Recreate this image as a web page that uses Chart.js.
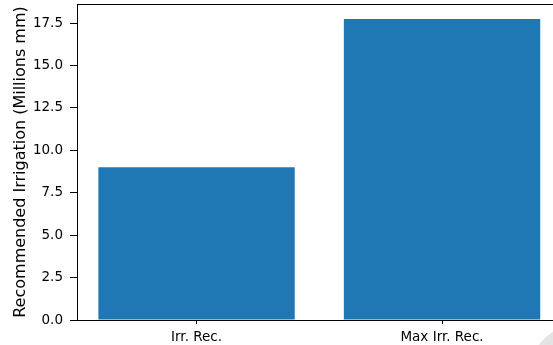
<!DOCTYPE html>
<html>
<head>
<meta charset="utf-8">
<script src="https://cdn.jsdelivr.net/npm/chart.js@4/dist/chart.umd.min.js"></script>
<style>
  html, body { margin: 0; padding: 0; background: #fff; overflow: hidden; }
  #wrap { position: relative; width: 553px; height: 345px; overflow: hidden; }
  #wrap canvas { position: absolute; left: 0; top: 0; }
  #corner { position: absolute; left: 531px; top: 326px; width: 88px; height: 88px;
            border-radius: 50%; background: #e4e4e4; }
</style>
</head>
<body>
<div id="wrap">
  <canvas id="c" width="580" height="345" style="width:580px;height:345px"></canvas>
  <div id="corner"></div>
</div>
<script>
// Irrigation recommendation totals (millions of mm)
const categories = ["Irr. Rec.", "Max Irr. Rec."];
const irrigation = [9.0, 17.73];
const yTicks = [0, 2.5, 5, 7.5, 10, 12.5, 15, 17.5];

const FONT = "'DejaVu Sans', sans-serif";

// top frame line of the plot box
const topSpine = {
  id: 'topSpine',
  afterDraw(chart) {
    const { ctx, chartArea } = chart;
    ctx.save();
    ctx.strokeStyle = '#000';
    ctx.lineWidth = 1;
    ctx.beginPath();
    ctx.moveTo(chartArea.left, chartArea.top + 0.5);
    ctx.lineTo(chartArea.right, chartArea.top + 0.5);
    ctx.stroke();
    ctx.restore();
  }
};

new Chart(document.getElementById('c'), {
  type: 'bar',
  data: {
    datasets: [{
      data: categories.map((c, i) => ({ x: i, y: irrigation[i] })),
      backgroundColor: '#1f77b4',
      borderWidth: 0,
      categoryPercentage: 1.0,
      barPercentage: 0.8
    }]
  },
  options: {
    responsive: false,
    animation: false,
    devicePixelRatio: 1,
    layout: { autoPadding: false, padding: { left: 0, top: 4, right: 0, bottom: 0 } },
    plugins: { legend: { display: false }, tooltip: { enabled: false } },
    scales: {
      x: {
        type: 'linear',
        offset: false,
        min: -0.487,
        max: 1.562,
        afterBuildTicks(s) { s.ticks = categories.map((c, i) => ({ value: i })); },
        afterFit(s) { s.height = 25; s.paddingLeft = 0; s.paddingRight = 0; },
        ticks: {
          callback: (v) => categories[v],
          font: { family: FONT, size: 13.5 },
          color: '#000',
          padding: 5,
          maxRotation: 0,
          autoSkip: false
        },
        grid: { offset: false, drawOnChartArea: false, tickLength: 4, tickColor: '#000', tickWidth: 1 },
        border: { color: '#000', width: 1 }
      },
      y: {
        min: 0,
        max: 18.62,
        afterBuildTicks(s) { s.ticks = yTicks.map(v => ({ value: v })); },
        afterFit(s) { s.width = 77; s.paddingTop = 0; s.paddingBottom = 0; },
        ticks: {
          callback: (v) => Number(v).toFixed(1),
          font: { family: FONT, size: 13.5 },
          color: '#000',
          padding: 7
        },
        grid: { drawOnChartArea: false, tickLength: 7, tickColor: '#000', tickWidth: 1 },
        border: { color: '#000', width: 1 },
        title: {
          display: true,
          text: 'Recommended Irrigation (Millions mm)',
          font: { family: FONT, size: 16 },
          color: '#000',
          padding: { top: 11, bottom: 0 }
        }
      }
    }
  },
  plugins: [topSpine]
});
</script>
</body>
</html>
